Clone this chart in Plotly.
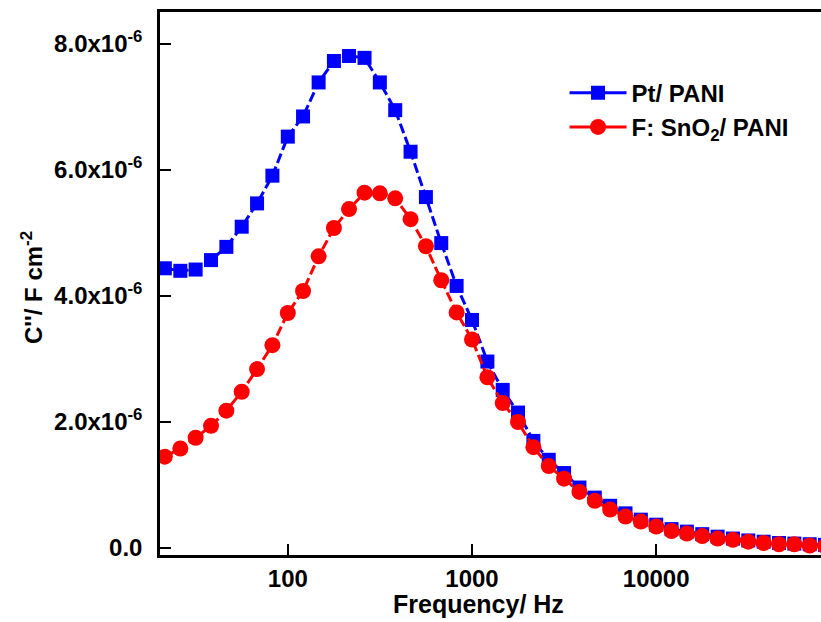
import plotly.graph_objects as go

freq_hz = [21.5, 26.1, 31.6, 38.3, 46.4, 56.2, 68.1, 82.5, 100, 121, 147, 178,
           215, 261, 316, 383, 464, 562, 681, 825, 1000, 1212, 1468, 1778,
           2154, 2610, 3162, 3831, 4642, 5623, 6813, 8254, 10000, 12115, 14678,
           17783, 21544, 26102, 31623, 38312, 46416, 56234, 68129, 82540]

pt_pani = [4.44, 4.40, 4.42, 4.57, 4.78, 5.10, 5.47, 5.91, 6.53, 6.85, 7.39, 7.73,
           7.81, 7.78, 7.39, 6.95, 6.29, 5.57, 4.84, 4.16, 3.62, 2.96, 2.51, 2.15,
           1.70, 1.40, 1.19, 0.96, 0.80, 0.67, 0.55, 0.45, 0.37, 0.30, 0.26,
           0.22, 0.18, 0.15, 0.12, 0.10, 0.08, 0.07, 0.06, 0.05]

fto_pani = [1.45, 1.58, 1.75, 1.94, 2.18, 2.48, 2.84, 3.22, 3.73, 4.08, 4.63, 5.08,
            5.38, 5.64, 5.63, 5.55, 5.22, 4.79, 4.25, 3.74, 3.31, 2.71, 2.30, 2.00,
            1.60, 1.30, 1.10, 0.89, 0.75, 0.61, 0.50, 0.42, 0.34, 0.27, 0.23,
            0.19, 0.15, 0.13, 0.10, 0.08, 0.06, 0.06, 0.04, 0.03]

series_names = ["Pt/ PANI", "F: SnO<sub>2</sub>/ PANI"]

scale = 1e-6
y_tick_vals = [0, 2e-6, 4e-6, 6e-6, 8e-6]
y_tick_text = ["0.0", "2.0x10<sup>-6</sup>", "4.0x10<sup>-6</sup>",
               "6.0x10<sup>-6</sup>", "8.0x10<sup>-6</sup>"]
x_tick_vals = [100, 1000, 10000]
x_tick_text = ["100", "1000", "10000"]

FONT = "Liberation Sans, Arial, sans-serif"
BLUE = "#0000FF"
RED = "#FF0000"

fig = go.Figure()
styles = [
    (pt_pani, BLUE, "square", 14),
    (fto_pani, RED, "circle", 16),
]
for (vals, col, sym, sz), name in zip(styles, series_names):
    fig.add_trace(go.Scatter(
        x=freq_hz, y=[v * scale for v in vals], name=name,
        mode="lines+markers", showlegend=False,
        line=dict(color=col, width=3, dash="10px,4px"),
        marker=dict(symbol=sym, size=sz, color=col),
    ))
# legend entries (solid line samples as in the reference legend)
for (vals, col, sym, sz), name in zip(styles, series_names):
    fig.add_trace(go.Scatter(
        x=[None], y=[None], name=name, mode="lines+markers",
        line=dict(color=col, width=3),
        marker=dict(symbol=sym, size=sz, color=col),
    ))

fig.update_layout(
    width=821, height=622,
    margin=dict(l=160, r=0, t=12, b=67),
    paper_bgcolor="white", plot_bgcolor="white",
    font=dict(family=FONT, size=24, color="black", weight="bold"),
    showlegend=True,
    legend=dict(x=0.612, y=0.892, xanchor="left", yanchor="top",
                bgcolor="rgba(0,0,0,0)", itemwidth=57,
                font=dict(family=FONT, size=24, color="black", weight="bold"),
                tracegroupgap=0),
)
fig.update_xaxes(
    type="log", range=[1.3062, 4.8947],
    showline=True, linecolor="black", linewidth=2.5, mirror=True,
    ticks="inside", ticklen=11, tickwidth=2, tickcolor="black",
    tickvals=x_tick_vals, ticktext=x_tick_text,
    tickfont=dict(family=FONT, size=24, color="black", weight="bold"),
    ticklabelstandoff=0,
    showgrid=False, zeroline=False,
)
fig.update_yaxes(
    range=[-0.111e-6, 8.508e-6],
    showline=True, linecolor="black", linewidth=2.5, mirror=False,
    ticks="inside", ticklen=11, tickwidth=2, tickcolor="black",
    tickvals=y_tick_vals, ticktext=y_tick_text,
    tickfont=dict(family=FONT, size=24, color="black", weight="bold"),
    ticklabelstandoff=10,
    showgrid=False, zeroline=False,
)
fig.add_annotation(
    text="Frequency/ Hz", xref="paper", yref="paper",
    x=(478.5 - 160) / 661, y=-(604 - 555) / 543, xanchor="center", yanchor="middle",
    showarrow=False, font=dict(family=FONT, size=25, color="black", weight="bold"),
)
fig.add_annotation(
    text="C''/ F cm<sup>-2</sup>", xref="paper", yref="paper",
    x=-(160 - 32) / 661, y=(555 - 288) / 543, xanchor="center", yanchor="middle",
    textangle=-90,
    showarrow=False, font=dict(family=FONT, size=24, color="black", weight="bold"),
)

fig.write_html("out.html")
